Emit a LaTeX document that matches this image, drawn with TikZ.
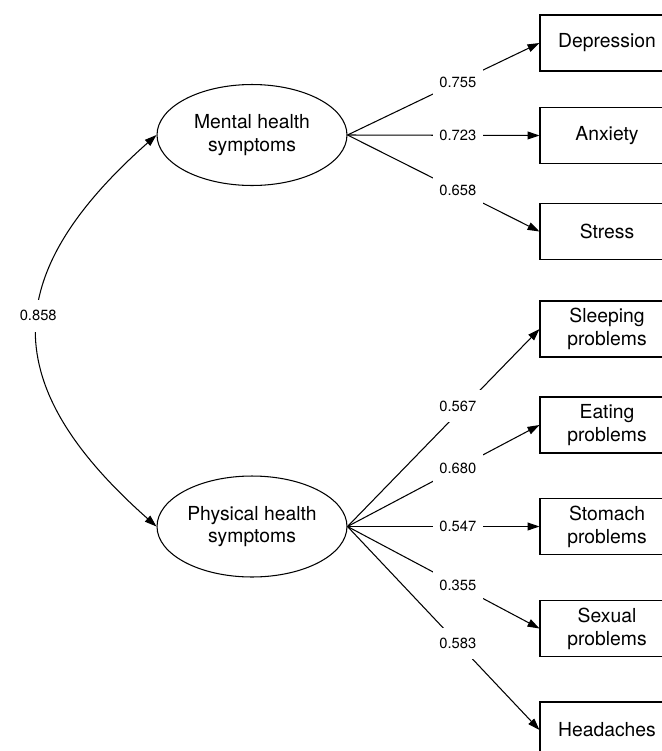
\documentclass[tikz,border=0pt]{standalone}
\usepackage{fontspec}
\setmainfont{TeX Gyre Heros}
\usetikzlibrary{shapes.geometric,arrows.meta}
\begin{document}
\begin{tikzpicture}[x=0.02cm,y=-0.02cm,
latent/.style={draw,ellipse,line width=0.6pt,minimum width=3.8cm,minimum height=2.02cm,inner sep=0pt,align=center,font=\fontsize{11}{13}\selectfont},
measured/.style={draw,rectangle,line width=0.6pt,minimum width=2.68cm,minimum height=1.12cm,inner sep=0pt,align=center,font=\fontsize{11}{13}\selectfont},
load/.style={line width=0.6pt,-{Triangle[length=6.8pt,width=4.5pt]}},
coef/.style={fill=white,inner xsep=3.8pt,inner ysep=6pt,font=\fontsize{8.4}{10}\selectfont}]
\useasboundingbox (0,0) rectangle (662,751);
\clip (0,0) rectangle (662,751);

\node[latent] (ment) at (252,135) {Mental health\\symptoms};
\node[latent] (phys) at (252,526.5) {Physical health\\symptoms};

\node[measured] (dep) at (607,43) {Depression};
\node[measured] (anx) at (607,135.5) {Anxiety};
\node[measured] (str) at (607,231.5) {Stress};
\node[measured] (slp) at (607,329) {Sleeping\\problems};
\node[measured] (eat) at (607,425) {Eating\\problems};
\node[measured] (stm) at (607,526.5) {Stomach\\problems};
\node[measured] (sex) at (607,628.5) {Sexual\\problems};
\node[measured] (hea) at (607,730) {Headaches};

\draw[load] (ment.east) -- node[coef,pos=0.575] {0.755} (dep.west);
\draw[load] (ment.east) -- node[coef,pos=0.575] {0.723} (anx.west);
\draw[load] (ment.east) -- node[coef,pos=0.575] {0.658} (str.west);

\draw[load] (phys.east) -- node[coef,pos=0.575,yshift=4pt] {0.567} (slp.west);
\draw[load] (phys.east) -- node[coef,pos=0.575] {0.680} (eat.west);
\draw[load] (phys.east) -- node[coef,pos=0.575] {0.547} (stm.west);
\draw[load] (phys.east) -- node[coef,pos=0.575] {0.355} (sex.west);
\draw[load] (phys.east) -- node[coef,pos=0.575] {0.583} (hea.west);

\draw[line width=0.6pt,{Triangle[length=6.8pt,width=4.5pt]}-{Triangle[length=6.8pt,width=4.5pt]}] (ment.west) .. controls +(-158.7,140.6) and +(-158.7,-140.6) .. node[coef,pos=0.46] {0.858} (phys.west);
\end{tikzpicture}
\end{document}
